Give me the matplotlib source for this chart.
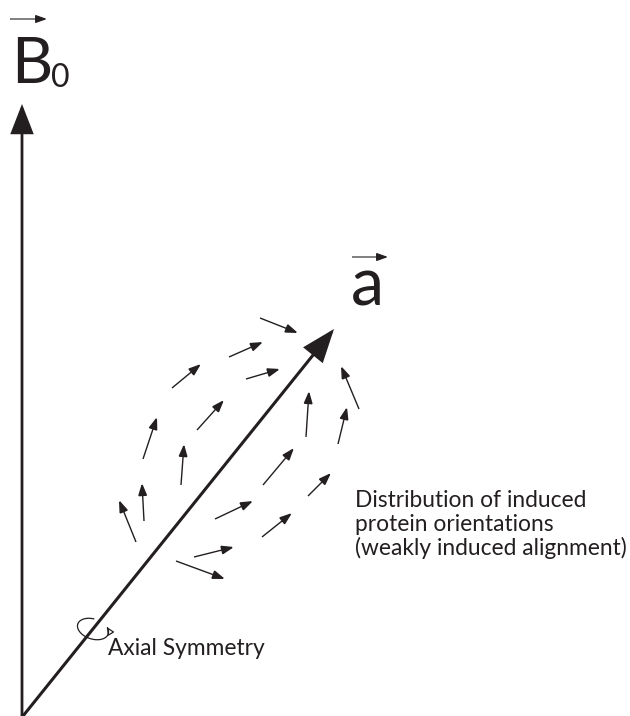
import numpy as np
import matplotlib.pyplot as plt
from matplotlib.patches import FancyArrowPatch
from matplotlib.path import Path

INK = '#231f20'
FONT = 'Lato'

# eixos principais (coordenadas em pixels, y cresce para baixo)
b0_tail = (22, 716)
b0_tip = (22, 104)
a_tail = (23, 716)
a_tip = (334, 329)

# setinhas: orientacoes induzidas das proteinas (cauda -> ponta)
tail_x = [260, 229, 246, 172, 197, 143, 181, 144, 136, 359, 306, 338, 263, 308, 215, 262, 194, 176]
tail_y = [318, 357, 379, 388, 430, 459, 485, 521, 542, 409, 437, 444, 485, 496, 519, 537, 557, 561]
head_x = [298, 263, 280, 201, 224, 157, 184, 142, 119, 341, 309, 347, 294, 331, 253, 292, 234, 225]
head_y = [333, 342, 369, 364, 400, 417, 444, 483, 500, 366, 391, 407, 448, 473, 501, 513, 547, 579]

desc_lines = ['Distribution of induced',
              'protein orientations',
              '(weakly induced alignment)']
sym_label = 'Axial Symmetry'

fig = plt.figure(figsize=(6.3, 7.16), dpi=100)
ax = fig.add_axes([0, 0, 1, 1])
ax.set_xlim(0, 630)
ax.set_ylim(716, 0)
ax.axis('off')


def seta(p0, p1, lw, hl, hw):
    ar = FancyArrowPatch(p0, p1, arrowstyle=f'-|>,head_length={hl},head_width={hw}',
                         mutation_scale=1, lw=lw, color=INK, shrinkA=0, shrinkB=0,
                         joinstyle='miter', capstyle='butt')
    ax.add_patch(ar)


# B0 e a
seta(b0_tail, b0_tip, 2.0, 18, 7)
seta(a_tail, a_tip, 2.2, 20, 7.5)

# distribuicao
for x0, y0, x1, y1 in zip(tail_x, tail_y, head_x, head_y):
    seta((x0, y0), (x1, y1), 1.0, 7.5, 2.7)

# rotulos dos vetores
ax.text(11, 83, 'B', fontsize=46, family=FONT, color=INK, ha='left', va='baseline')
ax.text(51, 87, '0', fontsize=23, family=FONT, color=INK, ha='left', va='baseline')
seta((10, 19), (47, 19), 0.8, 7, 2.5)
ax.text(351, 305, 'a', fontsize=48, family=FONT, color=INK, ha='left', va='baseline')
seta((352, 257), (388, 257), 0.8, 7, 2.5)

# texto explicativo
for i, s in enumerate(desc_lines):
    ax.text(355, 507 + 24 * i, s, fontsize=16.4, family=FONT, color=INK,
            ha='left', va='baseline')

# simetria axial: elipse em volta do eixo
c = np.array([93.0, 629.0])
ang = np.deg2rad(18)
u = np.array([np.cos(ang), np.sin(ang)])
v = np.array([-np.sin(ang), np.cos(ang)])
t = np.deg2rad(np.linspace(262, -38, 80))
pts = c + 16 * np.cos(t)[:, None] * u + 10 * np.sin(t)[:, None] * v
ax.add_patch(FancyArrowPatch(path=Path(pts), arrowstyle='-|>,head_length=4.5,head_width=2.2',
                             mutation_scale=1, lw=0.9, color=INK, fill=False))
ax.text(108, 655, sym_label, fontsize=16.4, family=FONT, color=INK,
        ha='left', va='baseline')

fig.savefig('out.png', dpi=100)
